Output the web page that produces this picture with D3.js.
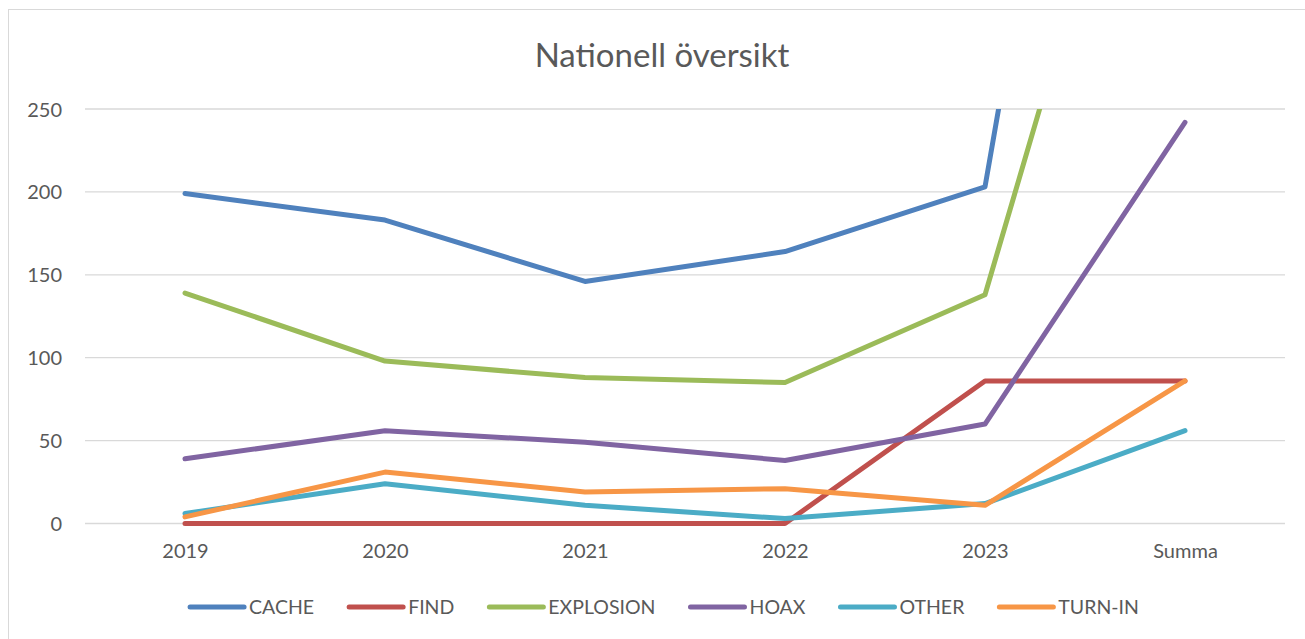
<!DOCTYPE html>
<html><head><meta charset="utf-8">
<script src="https://cdn.jsdelivr.net/npm/d3@7"></script>
<style>
html,body{margin:0;padding:0;background:#fff;}
svg{display:block;font-family:Lato, "Open Sans", sans-serif;}
</style></head>
<body>
<svg id="chart" width="1305" height="639"></svg>
<script>
const title = "Nationell översikt";
const categories = ["2019","2020","2021","2022","2023","Summa"];
const yTicks = [0,50,100,150,200,250];
const seriesNames = ["CACHE","FIND","EXPLOSION","HOAX","OTHER","TURN-IN"];
const seriesColors = ["#4F81BD","#C0504D","#9BBB59","#8064A2","#4BACC6","#F79646"];
const cacheValues = [199,183,146,164,203,895];
const findValues = [0,0,0,0,86,86];
const explosionValues = [139,98,88,85,138,548];
const hoaxValues = [39,56,49,38,60,242];
const otherValues = [6,24,11,3,12,56];
const turnInValues = [4,31,19,21,11,86];
const seriesValues = [cacheValues, findValues, explosionValues, hoaxValues, otherValues, turnInValues];

const svg = d3.select("#chart");
const W = 1305, H = 639;
const plot = {left:85, right:1285, top:109, bottom:523.5};

// outer chart border
svg.append("rect").attr("x",8.5).attr("y",9.5).attr("width",1310).attr("height",640)
  .attr("fill","none").attr("stroke","#d9d9d9").attr("stroke-width",1);

svg.append("text").attr("x",662).attr("y",67)
  .attr("text-anchor","middle").attr("font-size",33).attr("fill","#595959").text(title);

const x = d3.scalePoint().domain(categories).range([plot.left+100, plot.right-100]);
const y = d3.scaleLinear().domain([0,250]).range([plot.bottom, plot.top]);

// gridlines
svg.append("g").selectAll("line").data(yTicks).join("line")
  .attr("x1",plot.left).attr("x2",plot.right)
  .attr("y1",d=>y(d)).attr("y2",d=>y(d))
  .attr("stroke","#d9d9d9").attr("stroke-width",1.3);

// y axis labels
const yAxis = d3.axisLeft(y).tickValues(yTicks).tickSize(0).tickPadding(0);
const gy = svg.append("g").attr("transform",`translate(62,0)`).call(yAxis);
gy.select(".domain").remove();
gy.selectAll("text").attr("font-size",20).attr("fill","#595959").attr("font-family","Lato, sans-serif").attr("dy","0.35em");

// x axis labels
const xAxis = d3.axisBottom(x).tickSize(0).tickPadding(0);
const gx = svg.append("g").attr("transform",`translate(0,${plot.bottom+20})`).call(xAxis);
gx.select(".domain").remove();
gx.selectAll("text").attr("font-size",20).attr("fill","#595959").attr("font-family","Lato, sans-serif");

svg.append("clipPath").attr("id","plotclip").append("rect")
  .attr("x",0).attr("y",plot.top).attr("width",W).attr("height",plot.bottom-plot.top+20);

const line = d3.line().x((d,i)=>x(categories[i])).y(d=>y(d));
const g = svg.append("g").attr("clip-path","url(#plotclip)");
seriesValues.forEach((vals,k)=>{
  g.append("path").attr("d",line(vals)).attr("fill","none")
    .attr("stroke",seriesColors[k]).attr("stroke-width",5)
    .attr("stroke-linejoin","round").attr("stroke-linecap","round");
});

// legend
const lg = svg.append("g");
const legendY = 607;
const items = [];
seriesNames.forEach((n,k)=>{
  const it = lg.append("g");
  it.append("line").attr("x1",0).attr("x2",54).attr("y1",0).attr("y2",0)
    .attr("stroke",seriesColors[k]).attr("stroke-width",5).attr("stroke-linecap","round");
  const t = it.append("text").attr("x",59).attr("y",0).attr("dy","0.35em")
    .attr("font-size",19.5).attr("fill","#595959").text(n);
  const w = 59 + t.node().getComputedTextLength();
  items.push({it,w});
});
const gap = 35;
const total = d3.sum(items,d=>d.w) + gap*(items.length-1);
let cx = 197 + (935 - total)/2;
items.forEach(d=>{ d.it.attr("transform",`translate(${cx},${legendY})`); cx += d.w + gap; });
</script>
</body></html>
